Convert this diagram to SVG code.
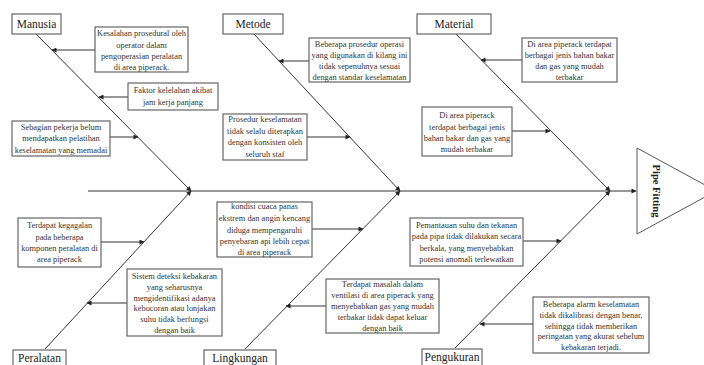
<svg xmlns="http://www.w3.org/2000/svg" width="704" height="365" viewBox="0 0 704 365">
<defs>
<marker id="ah" viewBox="0 0 10 10" refX="9" refY="5" markerWidth="6" markerHeight="5" markerUnits="userSpaceOnUse" orient="auto">
<path d="M0,0 L10,5 L0,10 z" fill="#222"/>
</marker>
</defs>
<style>
.box{fill:#fff;stroke:#666;stroke-width:1.2}
.lbl{font-family:"Liberation Serif","Times New Roman",serif;font-size:11.5px;fill:#222;text-anchor:middle}
.t{font-family:"Liberation Serif","Times New Roman",serif;font-size:8.4px;fill:#333;text-anchor:middle}
.ln{stroke:#444;stroke-width:1;fill:none}
.ar{stroke:#333;stroke-width:1;fill:none;marker-end:url(#ah)}
</style>
<rect width="704" height="365" fill="#fff"/>

<g id="head">
<polygon points="637,148 716,191 637,234" fill="#fff" stroke="#555" stroke-width="1"/>
<text x="655" y="191" transform="rotate(90 655 191)" text-anchor="middle" dominant-baseline="middle" font-family="Liberation Serif,Times New Roman,serif" font-weight="bold" font-size="10.5" fill="#222">Pipe Fitting</text>
</g>

<g id="connectors">
<line class="ar" x1="88" y1="191" x2="636" y2="191"/>
<line class="ar" x1="35" y1="33" x2="191" y2="191"/>
<line class="ar" x1="253" y1="33" x2="400" y2="191"/>
<line class="ar" x1="455" y1="33" x2="610" y2="191"/>
<line class="ar" x1="45" y1="349" x2="191" y2="191"/>
<line class="ar" x1="245" y1="349" x2="400" y2="191"/>
<line class="ar" x1="455" y1="348" x2="610" y2="191"/>
<line class="ar" x1="95" y1="50" x2="52" y2="50"/>
<line class="ar" x1="128" y1="97" x2="99" y2="97"/>
<line class="ar" x1="110" y1="137" x2="138" y2="137"/>
<line class="ar" x1="309" y1="61" x2="279" y2="61"/>
<line class="ar" x1="307" y1="137" x2="350" y2="137"/>
<line class="ar" x1="522" y1="60" x2="481" y2="60"/>
<line class="ar" x1="512" y1="131" x2="550" y2="131"/>
<line class="ar" x1="101" y1="242" x2="144" y2="242"/>
<line class="ar" x1="127" y1="303" x2="87" y2="303"/>
<line class="ar" x1="312" y1="229" x2="363" y2="229"/>
<line class="ar" x1="326" y1="306" x2="286" y2="306"/>
<line class="ar" x1="523" y1="241" x2="561" y2="241"/>
<line class="ar" x1="533" y1="324" x2="480" y2="324"/>
</g>

<g id="manusia"><rect class="box" x="12" y="14" width="49" height="20"/><text class="lbl" x="36.5" y="28">Manusia</text></g>
<g id="metode"><rect class="box" x="223" y="14" width="60" height="20"/><text class="lbl" x="253" y="28">Metode</text></g>
<g id="material"><rect class="box" x="417" y="14" width="74" height="20"/><text class="lbl" x="454" y="28">Material</text></g>
<g id="peralatan"><rect class="box" x="13" y="350" width="53" height="20"/><text class="lbl" x="39.5" y="362">Peralatan</text></g>
<g id="lingkungan"><rect class="box" x="204" y="350" width="72" height="20"/><text class="lbl" x="240" y="362">Lingkungan</text></g>
<g id="pengukuran"><rect class="box" x="422" y="349" width="60" height="20"/><text class="lbl" x="452" y="361">Pengukuran</text></g>

<g id="m1"><rect class="box" x="95" y="27" width="93" height="45"/>
<text class="t" x="141.5" y="36">Kesalahan prosedural oleh</text>
<text class="t" x="141.5" y="47.5">operator dalam</text>
<text class="t" x="141.5" y="58.5">pengoperasian peralatan</text>
<text class="t" x="141.5" y="69.5">di area piperack.</text></g>

<g id="m2"><rect class="box" x="128" y="83" width="90" height="27"/>
<text class="t" x="173" y="93">Faktor kelelahan akibat</text>
<text class="t" x="173" y="104.5">jam kerja panjang</text></g>

<g id="m3"><rect class="box" x="12" y="121" width="98" height="35"/>
<text class="t" x="61" y="130">Sebagian pekerja belum</text>
<text class="t" x="61" y="141">mendapatkan pelatihan</text>
<text class="t" x="61" y="152.5">keselamatan yang memadai</text></g>

<g id="me1"><rect class="box" x="309" y="38" width="101" height="44"/>
<text class="t" x="359.5" y="46.5">Beberapa prosedur operasi</text>
<text class="t" x="359.5" y="58">yang digunakan di kilang ini</text>
<text class="t" x="359.5" y="69">tidak sepenuhnya sesuai</text>
<text class="t" x="359.5" y="80">dengan standar keselamatan</text></g>

<g id="me2"><rect class="box" x="223" y="114" width="84" height="46"/>
<text class="t" x="265" y="121.5">Prosedur keselamatan</text>
<text class="t" x="265" y="133.5">tidak selalu diterapkan</text>
<text class="t" x="265" y="145">dengan konsisten oleh</text>
<text class="t" x="265" y="156.5">seluruh staf</text></g>

<g id="ma1"><rect class="box" x="522" y="38" width="95" height="44"/>
<text class="t" x="569.5" y="46.5">Di area piperack terdapat</text>
<text class="t" x="569.5" y="58">berbagai jenis bahan bakar</text>
<text class="t" x="569.5" y="69">dan gas yang mudah</text>
<text class="t" x="569.5" y="80">terbakar</text></g>

<g id="ma2"><rect class="box" x="422" y="107" width="90" height="49"/>
<text class="t" x="467" y="118">Di area piperack</text>
<text class="t" x="467" y="129.5">terdapat berbagai jenis</text>
<text class="t" x="467" y="140.5">bahan bakar dan gas yang</text>
<text class="t" x="467" y="152">mudah terbakar</text></g>

<g id="p1"><rect class="box" x="18" y="218" width="83" height="49"/>
<text class="t" x="59.5" y="228">Terdapat kegagalan</text>
<text class="t" x="59.5" y="239.5">pada beberapa</text>
<text class="t" x="59.5" y="251">komponen peralatan di</text>
<text class="t" x="59.5" y="262">area piperack</text></g>

<g id="p2"><rect class="box" x="127" y="269" width="95" height="67"/>
<text class="t" x="174.5" y="279">Sistem deteksi kebakaran</text>
<text class="t" x="174.5" y="289.8">yang seharusnya</text>
<text class="t" x="174.5" y="300.6">mengidentifikasi adanya</text>
<text class="t" x="174.5" y="311.4">kebocoran atau lonjakan</text>
<text class="t" x="174.5" y="322.2">suhu tidak berfungsi</text>
<text class="t" x="174.5" y="333">dengan baik</text></g>

<g id="l1"><rect class="box" x="217" y="202" width="95" height="55"/>
<text class="t" x="264.5" y="209">kondisi cuaca panas</text>
<text class="t" x="264.5" y="221">ekstrem dan angin kencang</text>
<text class="t" x="264.5" y="232.5">diduga mempengaruhi</text>
<text class="t" x="264.5" y="243.5">penyebaran api lebih cepat</text>
<text class="t" x="264.5" y="254.5">di area piperack</text></g>

<g id="l2"><rect class="box" x="326" y="279" width="113" height="54"/>
<text class="t" x="382.5" y="286.5">Terdapat masalah dalam</text>
<text class="t" x="382.5" y="298">ventilasi di area piperack yang</text>
<text class="t" x="382.5" y="309">menyebabkan gas yang mudah</text>
<text class="t" x="382.5" y="320">terbakar tidak dapat keluar</text>
<text class="t" x="382.5" y="331">dengan baik</text></g>

<g id="pe1"><rect class="box" x="410" y="218" width="113" height="48"/>
<text class="t" x="466.5" y="227.5">Pemantauan suhu dan tekanan</text>
<text class="t" x="466.5" y="239">pada pipa tidak dilakukan secara</text>
<text class="t" x="466.5" y="250.5">berkala, yang menyebabkan</text>
<text class="t" x="466.5" y="261.5">potensi anomali terlewatkan</text></g>

<g id="pe2"><rect class="box" x="533" y="297" width="116" height="56"/>
<text class="t" x="591" y="306.5">Beberapa alarm keselamatan</text>
<text class="t" x="591" y="317.5">tidak dikalibrasi dengan benar,</text>
<text class="t" x="591" y="328.5">sehingga tidak memberikan</text>
<text class="t" x="591" y="339">peringatan yang akurat sebelum</text>
<text class="t" x="591" y="350">kebakaran terjadi.</text></g>
</svg>
